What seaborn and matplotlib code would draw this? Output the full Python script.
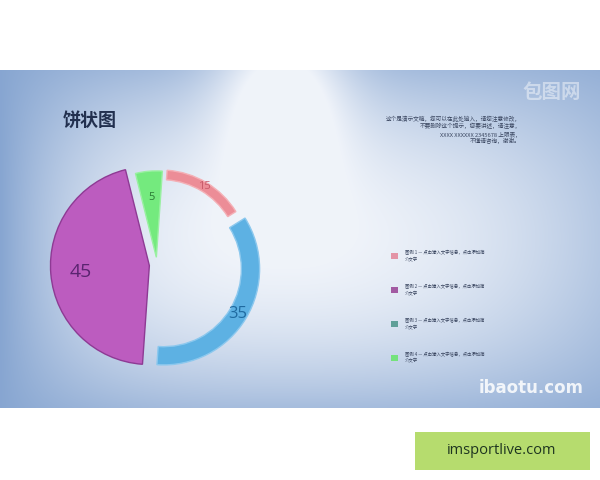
import numpy as np
import matplotlib
matplotlib.use("Agg")
import matplotlib.pyplot as plt
from matplotlib.patches import Patch, Rectangle
import seaborn as sns

# ---- data ----
categories = ["图例 1", "图例 2", "图例 3", "图例 4"]
values = [15, 35, 45, 5]
value_labels = ["15", "35", "45", "5"]
legend_texts = [
    "图例 1 — 点击输入文字信息，点击添加简\n介文字",
    "图例 2 — 点击输入文字信息，点击添加简\n介文字",
    "图例 3 — 点击输入文字信息，点击添加简\n介文字",
    "图例 4 — 点击输入文字信息，点击添加简\n介文字",
]
title = "饼状图"
note_lines = [
    "这个是演示文稿，您可以在此处输入，请您注意修改，",
    "不要删除这个提示，您要讲述，请注意，",
    "XXXX XXXXXX 2345678 上限表，",
    "不懂请咨询，谢谢。",
]

# ---- styling ----
sns.set_theme(style="white")
plt.rcParams["font.family"] = ["Noto Sans CJK SC", "DejaVu Sans"]

pie_colors = ["#ec8d97", "#5db1e3", "#bc5cbf", "#74ea7e"]
edge_colors = ["#f4b0b6", "#8cc8ee", "#8e3a94", "#9af0a2"]
label_colors = ["#c85a6a", "#1f6aa0", "#5a2470", "#2a7a34"]
legend_colors = ["#e394a6", "#a25aa2", "#5f9f98", "#74e27c"]
radii = [0.92, 1.0, 1.03, 0.9]
ring_widths = [0.1, 0.19, None, None]
label_sizes = [8, 12, 14, 8]

fig = plt.figure(figsize=(6, 4.8), dpi=100, facecolor="white")

# background slide gradient
bg = fig.add_axes([0, 0.15, 1, 0.7042])
ny, nx = 200, 300
X, Y = np.meshgrid(np.linspace(0, 1, nx), np.linspace(0, 1, ny))
fx = np.where(X < 0.5, 1 - np.clip((0.5 - X) / 0.5, 0, 1) ** 3,
              1 - 0.55 * ((X - 0.5) / 0.5) ** 2)
gy = 1 - 0.7 * ((Y - 0.5) / 0.5) ** 2
spot = 0.8 * np.exp(-(((X - 0.47) / 0.11) ** 2) - ((Y / 0.3) ** 2))
w = np.clip(fx * gy + spot, 0, 1)
base = np.array([0.53, 0.65, 0.82])
white = np.array([0.94, 0.955, 0.98])
img = base[None, None, :] + (white - base)[None, None, :] * w[..., None]
bg.imshow(img, aspect="auto", extent=[0, 1, 0, 1], interpolation="bilinear")
bg.set_axis_off()

# pie
ax = fig.add_axes([0.0617, 0.198, 0.4, 0.5])
ax.set_xlim(-1.2, 1.2)
ax.set_ylim(-1.2, 1.2)
ax.set_aspect("equal")
ax.set_axis_off()
wedges, _ = ax.pie(values, colors=pie_colors, startangle=86, counterclock=False,
                   explode=[0.08] * len(values), radius=1.0,
                   wedgeprops=dict(linewidth=1.0))
for i, wd in enumerate(wedges):
    wd.set_radius(radii[i])
    if ring_widths[i] is not None:
        wd.set_width(ring_widths[i])
    wd.set_edgecolor(edge_colors[i])
    mid = np.deg2rad((wd.theta1 + wd.theta2) / 2)
    if ring_widths[i] is not None:
        rr = radii[i] - ring_widths[i] / 2
    else:
        rr = 0.7 * radii[i]
    cx, cy = wd.center
    ax.text(cx + rr * np.cos(mid), cy + rr * np.sin(mid), value_labels[i],
            ha="center", va="center", fontsize=label_sizes[i],
            color=label_colors[i], family=["Open Sans", "DejaVu Sans"])

# title
fig.text(0.15, 1 - 120 / 480, title, fontsize=13, fontweight="bold",
         color="#22304f", ha="center", va="center")

# top-right note
for k, line in enumerate(note_lines):
    fig.text(0.868, 1 - (119 + k * 7.3) / 480, line, fontsize=4.1,
             color="#3a4660", ha="right", va="center")

# watermarks
fig.text(0.92, 1 - 92 / 480, "包图网", fontsize=14, color="white", alpha=0.45,
         ha="center", va="center", fontweight="bold")
fig.text(0.885, 1 - 388 / 480, "ibaotu.com", fontsize=12, color="white",
         alpha=0.85, ha="center", va="center", fontweight="bold",
         family=["DejaVu Sans"])

# legend
handles = [Patch(facecolor=c, edgecolor="none") for c in legend_colors]
fig.legend(handles, legend_texts, loc="upper left",
           bbox_to_anchor=(0.648, 1 - 248 / 480), frameon=False,
           fontsize=3.2, labelspacing=5.2, handlelength=1.5,
           handleheight=1.5, handletextpad=1.6, borderpad=0,
           labelcolor="#3a4660")

# bottom badge
fig.patches.append(Rectangle((415 / 600, 10 / 480), 175 / 600, 38 / 480,
                             transform=fig.transFigure, facecolor="#b6dc6e",
                             edgecolor="none"))
fig.text(502 / 600, 1 - 451 / 480, "imsportlive.com", fontsize=10.5,
         color="#1e3520", ha="center", va="center",
         family=["Open Sans", "DejaVu Sans"])

fig.savefig("out.png", dpi=100, facecolor="white")
